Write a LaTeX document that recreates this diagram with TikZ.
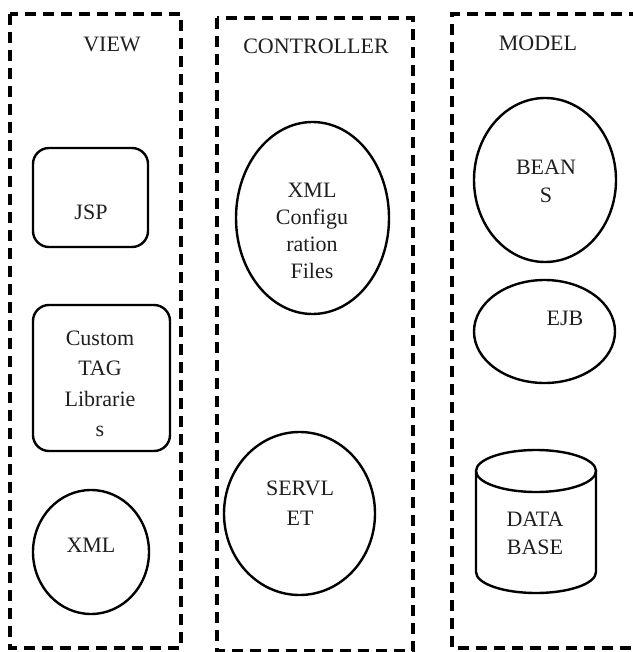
\documentclass[tikz,border=0pt]{standalone}
\usepackage{fontspec}
\setmainfont{Liberation Serif}
\usetikzlibrary{shapes.geometric}
\begin{document}
\begin{tikzpicture}[x=1pt,y=-1pt,
  panel/.style={draw=black,line width=3.6pt,dash pattern=on 11pt off 7pt},
  shapeline/.style={draw=black,line width=2.4pt},
  rbox/.style={shapeline,rounded corners=16pt},
  txt/.style={align=center,inner sep=0pt,font=\fontsize{22}{28}\selectfont,text=black!88},
  head/.style={inner sep=0pt,font=\fontsize{22}{24}\selectfont,text=black!88}]
\useasboundingbox (0,0) rectangle (632,652);
% panels
\draw[panel] (10,14) rectangle (181,648);
\draw[panel] (217,18) rectangle (413,651);
\draw[panel] (640,14) -- (452,14) -- (452,648) -- (640,648);
\node[head] (hview) at (112,44) {VIEW};
\node[head] (hctrl) at (316,46) {CONTROLLER};
\node[head] (hmodel) at (538,43) {MODEL};
% VIEW
\node[rbox,minimum width=115pt,minimum height=99pt] (jsp) at (90.5,197.5) {};
\node[txt] (tjsp) at (91,212) {JSP};
\node[rbox,minimum width=137pt,minimum height=146pt] (ctl) at (101.5,378) {};
\node[txt,font=\fontsize{22}{30.5}\selectfont] (tctl) at (100,384) {Custom\\TAG\\Librarie\\s};
\node[shapeline,ellipse,minimum width=116pt,minimum height=124pt,inner sep=0pt] (xmlv) at (91,552) {};
\node[txt] (txmlv) at (91,545) {XML};
% CONTROLLER
\node[shapeline,ellipse,minimum width=153pt,minimum height=192pt,inner sep=0pt] (cfg) at (312.5,218) {};
\node[txt,font=\fontsize{22}{27}\selectfont] (tcfg) at (312,231) {XML\\Configu\\ration\\Files};
\node[shapeline,ellipse,minimum width=151pt,minimum height=163pt,inner sep=0pt] (srv) at (299.5,513.5) {};
\node[txt,font=\fontsize{22}{30}\selectfont] (tsrv) at (300,503) {SERVL\\ET};
% MODEL
\node[shapeline,ellipse,minimum width=142pt,minimum height=164pt,inner sep=0pt] (bean) at (545,180) {};
\node[txt] (tbean) at (546,181) {BEAN\\S};
\node[shapeline,ellipse,minimum width=141pt,minimum height=103pt,inner sep=0pt] (ejb) at (544.5,331.5) {};
\node[txt] (tejb) at (565,318) {EJB};
\draw[shapeline] (476,471) -- (476,572) arc[start angle=180,end angle=0,x radius=60,y radius=21] -- (596,471);
\draw[shapeline] (536,471) ellipse[x radius=60,y radius=21];
\node[txt] (tdb) at (535,533) {DATA\\BASE};
\end{tikzpicture}
\end{document}
